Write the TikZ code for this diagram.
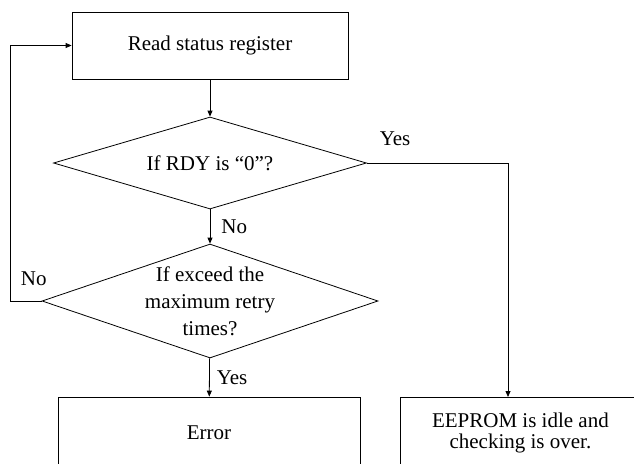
\documentclass[tikz,border=0pt]{standalone}
\usepackage{fontspec}
\setmainfont{Liberation Serif}
\usetikzlibrary{positioning, arrows.meta, shapes.geometric}
\newcommand{\chartfont}{\fontsize{21}{27}\selectfont}
\tikzset{
  box/.style   = {draw, rectangle, align=center, inner sep=0pt, font=\chartfont},
  test/.style  = {draw, diamond, align=center, inner xsep=0pt, inner ysep=-12pt,
                  font=\chartfont},
  ar/.style    = {-{Triangle[length=6pt, width=5pt]}},
  lbl/.style   = {font=\chartfont, inner sep=1pt},
}

\begin{document}
\begin{tikzpicture}[x=1pt, y=-1pt, line width=0.8pt]
  \useasboundingbox (0,0) rectangle (634,463);
  \clip (0,0) rectangle (634,463);

  \node[box, minimum width=276pt, minimum height=67pt] (read) at (210,45.5) {Read status register};
  \node[test, shape aspect=3.4, minimum width=313pt, minimum height=92pt] (rdy) at (210,163)
    {If RDY is “0”?};
  \node[test, shape aspect=2.95, minimum width=336pt, minimum height=114pt] (retry) at (210,301)
    {If exceed the\\maximum retry\\times?};
  \node[box, minimum width=302pt, minimum height=72pt] (err) at (209,433) {Error};
  \node[box, minimum width=240pt, minimum height=72pt, anchor=north west,
        font=\fontsize{21}{21}\selectfont] (idle) at (400,397)
    {EEPROM is idle and\\checking is over.};

  \coordinate (turn) at (508,163);
  \coordinate (back) at (10,301);

  \draw[ar] (read) -- (rdy);
  \draw[ar] (rdy) -- node[lbl, right=10pt] (no1) {No} (retry);
  \draw[ar] (retry) -- node[lbl, right=6pt] (yes2) {Yes} (err);
  \draw[ar] (rdy.east) -- node[lbl, above=16pt, pos=0.2] (yes1) {Yes} (turn) -- (turn |- idle.north);
  \draw[ar] (retry.west) -- node[lbl, above=14pt, pos=0.25] (no2) {No} (back) |- (read.west);
\end{tikzpicture}
\end{document}
